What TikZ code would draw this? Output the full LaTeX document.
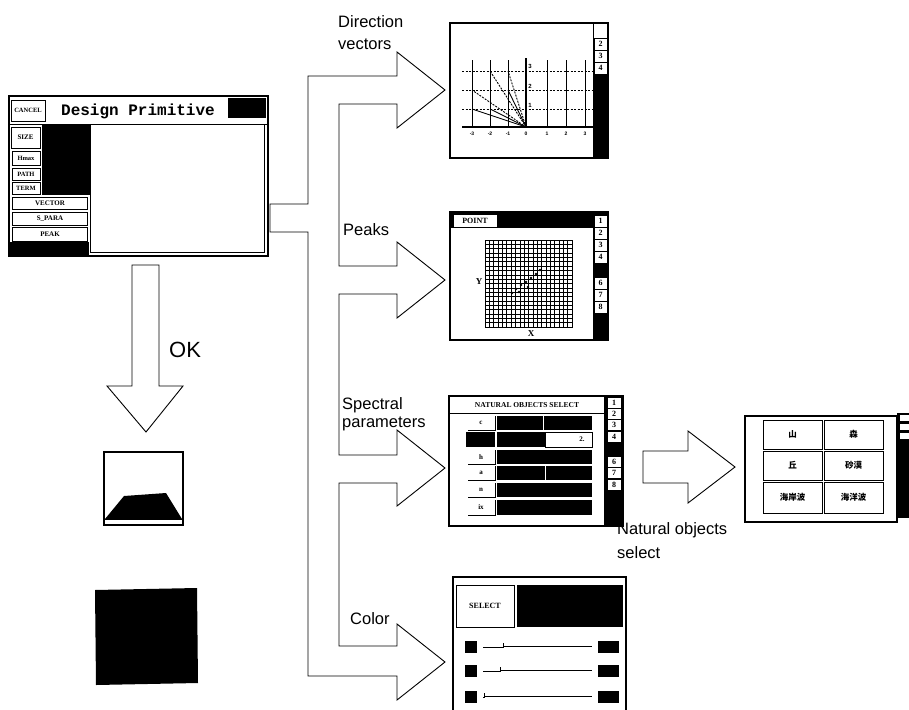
\documentclass[tikz,border=0pt]{standalone}
\usepackage{fontspec}
\setmainfont{Liberation Sans}
\newfontfamily\scrserif{Liberation Serif}
\newfontfamily\scrmono{Liberation Mono}
\newfontfamily\jpfont{Noto Sans CJK JP}
\begin{document}
\begin{tikzpicture}[x=1pt,y=-1pt,line join=miter,
  conn/.style={draw=black,line width=0.9pt,fill=white},
  panel/.style={draw=black,line width=2.2pt},
  lab/.style={font=\fontsize{16.5}{19}\selectfont,anchor=west,inner sep=0pt},
  scr/.style={font=\scrserif\bfseries\fontsize{7}{8}\selectfont,inner sep=0pt},
  scrbig/.style={font=\scrserif\bfseries\fontsize{9}{10}\selectfont,inner sep=0pt},
  tabbox/.style={draw=black,line width=0.6pt,fill=white},
  cell/.style={draw=black,line width=1pt},
  jp/.style={font=\jpfont\bfseries\fontsize{8.5}{9}\selectfont,inner sep=0pt},
]
\useasboundingbox (0,0) rectangle (909,709);
\clip (0,0) rectangle (909,709);
\fill[white] (0,0) rectangle (909,709);

% ---------- Design Primitive window ----------
\coordinate (dpE1) at (270,204);
\coordinate (dpE2) at (270,232);
\fill[white] (9,96) rectangle (268,256);
\draw[panel,line width=2pt] (9,96) rectangle (268,256);
\draw[line width=1pt] (9,124) -- (268,124);
\draw[line width=0.8pt] (11,100) rectangle (45,121);
\node[scr,font=\scrserif\bfseries\fontsize{6.5}{7}\selectfont] at (28,110.5) {CANCEL};
\node[font=\scrmono\bfseries\fontsize{16}{16}\selectfont,inner sep=0pt] at (138,111) {Design Primitive};
\fill (228,98) rectangle (266,118);
\draw[line width=1pt] (90,124) rectangle (264,252);
\fill (42,124) rectangle (90,195);
\draw[line width=0.8pt] (11,127) rectangle (40,148);
\node[scr] at (25.5,137) {SIZE};
\foreach \t/\a/\b in {Hmax/151/165,PATH/168/180,TERM/182/194}{
  \draw[line width=0.8pt,fill=white] (12,\a) rectangle (40,\b);
  \node[scr,font=\scrserif\bfseries\fontsize{6.5}{6.5}\selectfont] at (26,{(\a+\b)/2}) {\t};
}
\foreach \t/\a/\b in {VECTOR/197/209,S\_PARA/212/225,PEAK/227/241}{
  \draw[line width=0.8pt,fill=white] (12,\a) rectangle (87,\b);
  \node[scr,font=\scrserif\bfseries\fontsize{7}{7}\selectfont] at (50,{(\a+\b)/2}) {\t};
}
\fill (9,242) rectangle (89,256);

% ---------- branching hollow arrow ----------
\draw[conn] (dpE2) -- (dpE1) -- (308,204) -- (308,76) -- (397,76) -- (397,52) -- (445,90)
  -- (397,128) -- (397,104) -- (339,104) -- (339,266) -- (397,266) -- (397,242)
  -- (445,280) -- (397,318) -- (397,294) -- (339,294) -- (339,455) -- (397,455)
  -- (397,430) -- (445,468) -- (397,506) -- (397,483) -- (339,483) -- (339,646)
  -- (397,646) -- (397,624) -- (445,662) -- (397,700) -- (397,676) -- (308,676)
  -- (308,232) -- cycle;

\node[lab] (ldir) at (338,22) {Direction};
\node[lab] (lvec) at (338,44) {vectors};
\node[lab] (lpk) at (343,230) {Peaks};
\node[lab] (lsp) at (342,405) {Spectral};
\node[lab] (lpar) at (342,424) {parameters};
\node[lab] (lcol) at (350,619) {Color};

% ---------- OK arrow and results ----------
\draw[conn] (132,265) -- (159,265) -- (159,386) -- (183,386) -- (146,432) -- (107,386) -- (132,386) -- cycle;
\node[font=\fontsize{22}{24}\selectfont,anchor=west,inner sep=0pt] (lok) at (169,350) {OK};
\draw[line width=1.6pt] (104,452) rectangle (183,525);
\fill (105,519) -- (124,496) -- (166,493) -- (182,519) -- cycle;
\draw[line width=1pt] (104,519) -- (183,519);
\fill (95,590) -- (197,588) -- (198,683) -- (96,685) -- cycle;

% ---------- Direction vectors window ----------
\draw[panel] (450,23) rectangle (608,158);
\fill (593,75) rectangle (608,158);
\draw[line width=0.8pt] (593,23) -- (593,158);
\foreach \n/\y in {2/38,3/50,4/62}{
  \draw[tabbox] (594,\y) rectangle (607,\y+12);
  \node[scr,font=\scrserif\bfseries\fontsize{8}{8}\selectfont] at (600.5,\y+6) {\n};
}
\foreach \x in {472,490,508,547,566,585} \draw[line width=1pt] (\x,60) -- (\x,127);
\draw[line width=1.5pt] (526,58) -- (526,127);
\draw[line width=1.5pt] (462,127) -- (593,127);
\foreach \y in {71,90,109} \draw[line width=1pt,dash pattern=on 2pt off 1.5pt] (462,\y) -- (593,\y);
\foreach \x/\t in {472/-3,490/-2,508/-1,526/0,547/1,566/2,585/3}
  \node[font=\fontsize{5}{5}\selectfont\bfseries,inner sep=0pt] at (\x,134) {\t};
\foreach \y/\t in {66/3,86/2,105/1}
  \node[font=\fontsize{6}{6}\selectfont\bfseries,inner sep=0pt] at (530,\y) {\t};
\foreach \p in {(472,109),(490,109),(508,90)} \draw[line width=0.9pt] (526,127) -- \p;
\foreach \p in {(472,90),(490,71),(508,71)} \draw[line width=0.9pt,dash pattern=on 2pt off 1.2pt] (526,127) -- \p;

% ---------- Peaks window ----------
\draw[panel] (450,212) rectangle (608,340);
\fill (450,212) rectangle (593,228);
\draw[tabbox] (453,214) rectangle (497,227);
\node[scr,font=\scrserif\bfseries\fontsize{8}{8}\selectfont] at (475,220.5) {POINT};
\fill (593,212) rectangle (608,340);
\foreach \n/\y in {1/215,2/227,3/239,4/251,6/277,7/289,8/301}{
  \draw[tabbox] (594,\y) rectangle (607,\y+12);
  \node[scr,font=\scrserif\bfseries\fontsize{8}{8}\selectfont] at (600.5,\y+6) {\n};
}
\foreach \i in {0,...,20}{
  \draw[line width=0.6pt] (485+\i*4.35,240) -- (485+\i*4.35,327);
  \draw[line width=0.6pt] (485,240+\i*4.35) -- (572,240+\i*4.35);
}
\draw[line width=1pt] (485,240) rectangle (572,327);
\foreach \p in {(512,293),(516,289),(521,285),(526,282),(531,278),(536,274),(540,270),(519,292),(528,287)}
  \fill \p circle (1.4);
\node[scrbig] at (479,282) {Y};
\node[scrbig] at (531,334) {X};

% ---------- Spectral parameters window ----------
\draw[panel] (449,396) rectangle (623,526);
\fill (604,396) rectangle (623,526);
\foreach \n/\y in {1/397,2/408,3/419,4/431,6/456,7/467,8/479}{
  \draw[tabbox] (607,\y) rectangle (621,\y+11.5);
  \node[scr,font=\scrserif\bfseries\fontsize{8}{8}\selectfont] at (614,\y+5.75) {\n};
}
\draw[line width=0.8pt] (450,413) -- (604,413);
\node[scr,font=\scrserif\bfseries\fontsize{7.5}{8}\selectfont] at (527,405) {NATURAL OBJECTS SELECT};
\foreach \t/\a/\b in {c/415/431,h/449/465,a/465/481,n/482/498,ix/499/516}{
  \node[scr] at (481,{(\a+\b)/2}) {\t};
  \draw[line width=0.8pt] (468,\b-1) -- (495,\b-1) -- (495,\a+1);
  \fill (497,\a+1) rectangle (592,\b-1);
}
\fill (466,432) rectangle (495,447);
\fill (497,432) rectangle (545,447);
\draw[line width=0.8pt] (545,432) rectangle (592,447);
\node[scr] at (582,439.5) {2.};
\draw[white,line width=0.6pt] (543,416) -- (543,430);
\draw[white,line width=0.6pt] (545,466) -- (545,480);

% ---------- natural objects arrow and window ----------
\draw[conn] (643,451) -- (688,451) -- (688,431) -- (735,467) -- (688,503) -- (688,483) -- (643,483) -- cycle;
\node[lab] (lnat) at (617,530) {Natural objects};
\node[lab] (lsel) at (617,553) {select};
\draw[panel] (745,416) rectangle (897,522);
\fill (897,413) rectangle (909,518);
\foreach \y in {415,424,433} \fill[white] (900,\y) rectangle (909,\y+6);
\foreach \t/\x/\a/\b in {山/763/420/449,森/824/420/449,丘/763/451/480,砂漠/824/451/480,海岸波/763/482/513,海洋波/824/482/513}{
  \draw[cell] (\x,\a) rectangle (\x+59,\b);
  \node[jp] at (\x+29.5,{(\a+\b)/2}) {\t};
}

% ---------- Color window ----------
\draw[panel] (453,577) rectangle (626,716);
\draw[line width=1pt] (456,585) rectangle (514,627);
\node[scr,font=\scrserif\bfseries\fontsize{8}{8}\selectfont] at (485,606) {SELECT};
\fill (517,585) rectangle (623,627);
\foreach \y/\k in {647/503,671/500,697/484}{
  \fill (465,\y-6) rectangle (477,\y+6);
  \fill (598,\y-6) rectangle (619,\y+6);
  \draw[line width=0.9pt] (483,\y) -- (\k,\y) -- (\k,\y-4);
  \draw[line width=0.9pt] (\k,\y-1) -- (592,\y-1);
}
\end{tikzpicture}
\end{document}
